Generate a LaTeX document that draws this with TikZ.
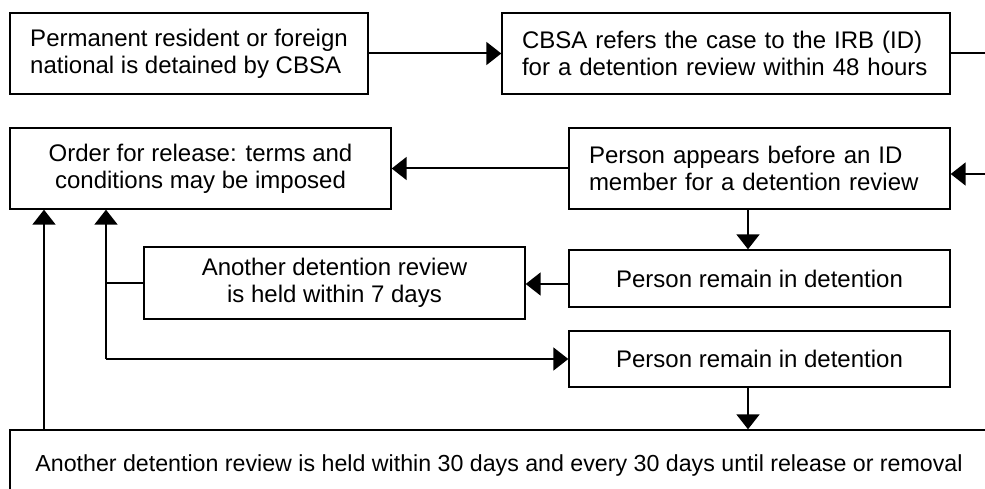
\documentclass[tikz,border=0pt]{standalone}
\usepackage{fontspec}
\setmainfont{Liberation Sans}
\usetikzlibrary{arrows.meta}
\begin{document}
\begin{tikzpicture}[x=1pt,y=-1pt,
  box/.style={draw, line width=1.4pt, rectangle, inner sep=0pt,
    font=\fontsize{24}{27}\selectfont},
  conn/.style={line width=2pt},
  arr/.style={conn, -{Triangle[length=15pt,width=23pt]}}]
\clip (0,0) rectangle (985,489);

% process boxes
\node[box, minimum width=358pt, minimum height=81pt, align=left]
  (perm) at (189,53.5) {Permanent resident or foreign\\national is detained by CBSA};
\node[box, minimum width=448pt, minimum height=81pt, text width=408pt, align=left]
  (cbsa) at (726,53.5) {CBSA refers the case to the IRB (ID)\\for a detention review within 48 hours};
\node[box, minimum width=381pt, minimum height=81pt, align=center]
  (order) at (200.5,168.5) {Order for release: terms and\\conditions may be imposed};
\node[box, minimum width=381pt, minimum height=81pt, text width=341pt, align=left]
  (appear) at (759.5,168.5) {Person appears before an ID\\member for a detention review};
\node[box, minimum width=381pt, minimum height=57pt, text height=23pt, text depth=5pt]
  (remainA) at (759.5,278.5) {Person remain in detention};
\node[box, minimum width=381pt, minimum height=72pt, align=center]
  (seven) at (334.5,283) {Another detention review\\is held within 7 days};
\node[box, minimum width=381pt, minimum height=56pt, text height=22pt, text depth=5pt]
  (remainB) at (759.5,359) {Person remain in detention};
\node[box, minimum width=978pt, minimum height=70pt, font=\fontsize{23.2}{27}\selectfont]
  (thirty) at (499,465) {Another detention review is held within 30 days and every 30 days until release or removal};

% helper coordinates
\coordinate (outR) at (990,53.5);
\coordinate (inR) at (990,174);
\coordinate (dx) at (748,0);
\coordinate (r7) at (0,284);
\coordinate (j) at (106,359);
\coordinate (k) at (44,0);

% connectors
\draw[arr] (perm) -- (cbsa);
\draw[conn] (cbsa.east) -- (outR);
\draw[arr] (inR) -- (inR -| appear.east);
\draw[arr] (appear) -- (order);
\draw[arr] (appear.south -| dx) -- (remainA.north -| dx);
\draw[arr] (remainA.west |- r7) -- (seven.east |- r7);
\draw[conn] (seven.west) -- (seven.west -| j);
\draw[arr] (j) -- (order.south -| j);
\draw[arr] (j) -- (remainB.west);
\draw[arr] (remainB.south -| dx) -- (thirty.north -| dx);
\draw[arr] (thirty.north -| k) -- (order.south -| k);
\end{tikzpicture}
\end{document}
